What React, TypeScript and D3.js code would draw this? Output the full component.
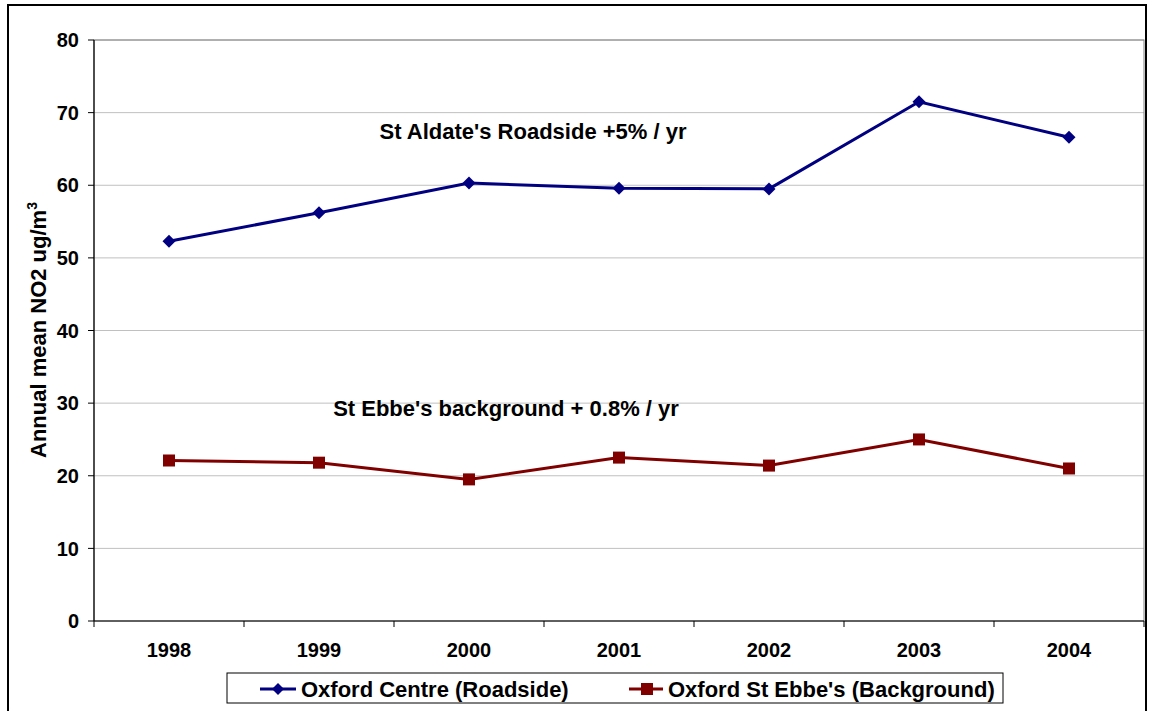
import React from "react";
import * as d3 from "d3";

const years = ["1998", "1999", "2000", "2001", "2002", "2003", "2004"];
const roadside = [52.3, 56.2, 60.3, 59.6, 59.5, 71.5, 66.6];
const background = [22.1, 21.8, 19.5, 22.5, 21.4, 25.0, 21.0];
const yTicks = [0, 10, 20, 30, 40, 50, 60, 70, 80];
const seriesNames = ["Oxford Centre (Roadside)", "Oxford St Ebbe's (Background)"];
const annotations = ["St Aldate's Roadside +5% / yr", "St Ebbe's background + 0.8% / yr"];

const W = 1156, H = 711;
const L = 94, R = 1144, T = 40, B = 621;
const FONT = "'Liberation Sans', Arial, sans-serif";
const BLUE = "#000080";
const RED = "#800000";

const diamond = (cx: number, cy: number, r: number) =>
  `M${cx},${cy - r}L${cx + r},${cy}L${cx},${cy + r}L${cx - r},${cy}Z`;

export default function App() {
  const x = d3.scaleBand().domain(years).range([L, R]);
  const y = d3.scaleLinear().domain([0, 80]).range([B, T]);
  const cx = (d: string) => (x(d) as number) + x.bandwidth() / 2;
  const line = d3.line<number>().x((_, i) => cx(years[i])).y((v) => y(v));
  const boundaries = years.map((d) => x(d) as number).concat([R]);

  return (
    <svg width={W} height={H} style={{ position: "absolute", left: 0, top: 0, background: "#fff" }}>
      <rect x={8} y={5} width={1138} height={720} fill="#fff" stroke="#000" strokeWidth={2} />
      {yTicks.filter((t) => t > 0).map((t) => (
        <line key={t} x1={L} x2={R} y1={y(t)} y2={y(t)} stroke="#c0c0c0" strokeWidth={1} />
      ))}
      <rect x={L} y={T} width={R - L} height={B - T} fill="none" stroke="#808080" strokeWidth={1} />
      <line x1={L} x2={L} y1={T} y2={B} stroke="#000" strokeWidth={1.2} />
      {yTicks.map((t) => (
        <g key={t}>
          <line x1={L - 6} x2={L} y1={y(t)} y2={y(t)} stroke="#000" />
          <text x={79} y={y(t)} dy="0.36em" textAnchor="end" fontFamily={FONT} fontWeight="bold" fontSize={20}>
            {t}
          </text>
        </g>
      ))}
      <line x1={L} x2={R} y1={B} y2={B} stroke="#000" strokeWidth={1.2} />
      {boundaries.map((b, i) => (
        <line key={i} x1={b} x2={b} y1={B} y2={B + 6} stroke="#000" />
      ))}
      {years.map((d) => (
        <text key={d} x={cx(d)} y={657} textAnchor="middle" fontFamily={FONT} fontWeight="bold" fontSize={20}>
          {d}
        </text>
      ))}
      <text transform={`translate(46,330) rotate(-90)`} textAnchor="middle" fontFamily={FONT} fontWeight="bold" fontSize={22}>
        Annual mean NO2 ug/m<tspan dy={-9} fontSize={14}>3</tspan>
      </text>
      <path d={line(roadside) || ""} fill="none" stroke={BLUE} strokeWidth={3} />
      {roadside.map((v, i) => (
        <path key={i} d={diamond(cx(years[i]), y(v), 6.5)} fill={BLUE} />
      ))}
      <path d={line(background) || ""} fill="none" stroke={RED} strokeWidth={3} />
      {background.map((v, i) => (
        <rect key={i} x={cx(years[i]) - 6} y={y(v) - 6} width={12} height={12} fill={RED} />
      ))}
      <text x={533} y={139} textAnchor="middle" fontFamily={FONT} fontWeight="bold" fontSize={22}>{annotations[0]}</text>
      <text x={506} y={416} textAnchor="middle" fontFamily={FONT} fontWeight="bold" fontSize={22}>{annotations[1]}</text>
      <rect x={227} y={673} width={776} height={30} fill="#fff" stroke="#000" strokeWidth={1} />
      <line x1={260} x2={296} y1={689} y2={689} stroke={BLUE} strokeWidth={3} />
      <path d={diamond(278, 689, 6)} fill={BLUE} />
      <text x={301} y={697} fontFamily={FONT} fontWeight="bold" fontSize={22}>{seriesNames[0]}</text>
      <line x1={629} x2={663} y1={689} y2={689} stroke={RED} strokeWidth={3} />
      <rect x={641} y={683} width={12} height={12} fill={RED} />
      <text x={668} y={697} fontFamily={FONT} fontWeight="bold" fontSize={22}>{seriesNames[1]}</text>
    </svg>
  );
}
